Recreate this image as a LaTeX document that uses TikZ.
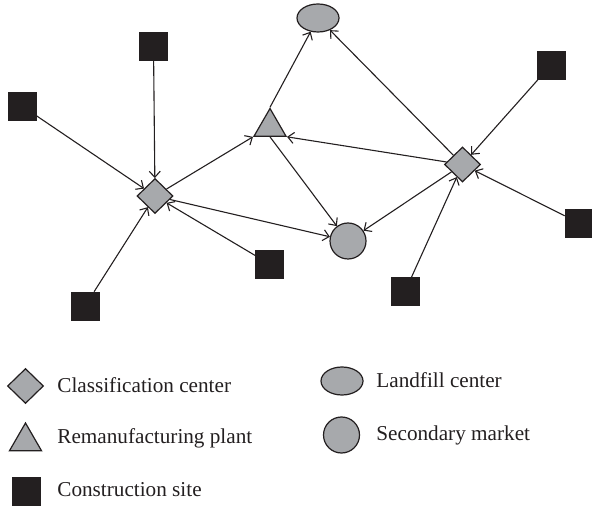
\documentclass[tikz,border=0pt]{standalone}
\usepackage{fontspec}
\setmainfont{Liberation Serif}
\usepackage{xcolor}
\usetikzlibrary{shapes.geometric,arrows.meta}
\definecolor{NetGray}{HTML}{A7A9AC}
\definecolor{NetDark}{HTML}{231F20}

\begin{document}
\begin{tikzpicture}[x=0.5pt,y=-0.5pt,
  sitebox/.style={draw=NetDark,fill=NetDark,minimum size=14pt,inner sep=0pt,line width=0.3pt},
  classbox/.style={diamond,draw=NetDark,fill=NetGray,minimum width=18pt,minimum height=17.5pt,inner sep=0pt,line width=0.6pt},
  plantbox/.style={regular polygon,regular polygon sides=3,draw=NetDark,fill=NetGray,minimum size=18.5pt,inner sep=0pt,line width=0.6pt},
  landbox/.style={ellipse,draw=NetDark,fill=NetGray,minimum width=21pt,minimum height=14pt,inner sep=0pt,line width=0.6pt},
  marketbox/.style={circle,draw=NetDark,fill=NetGray,minimum size=18pt,inner sep=0pt,line width=0.6pt},
  flow/.style={draw=NetDark,line width=0.55pt,-{Straight Barb[length=3pt,width=5.5pt]}},
  legtext/.style={anchor=base west,inner sep=0pt,text=NetDark,font=\fontsize{10.6}{12.5}\selectfont}]
\path[use as bounding box] (0,0) rectangle (592,506);
% network
\node[landbox] (lf) at (318,18) {};
\node[plantbox] (rp) at (270,127) {};
\node[classbox] (cl) at (155,196) {};
\node[classbox] (cr) at (462.5,164.5) {};
\node[marketbox] (sm) at (348,241) {};
\node[sitebox] (s1) at (153.5,46.5) {};
\node[sitebox] (s2) at (22,106) {};
\node[sitebox] (s3) at (85,306) {};
\node[sitebox] (s4) at (269.5,264) {};
\node[sitebox] (s5) at (551,65) {};
\node[sitebox] (s6) at (579,223) {};
\node[sitebox] (s7) at (405,291.5) {};
\draw[flow] (s1) -- (cl);
\draw[flow] (s2) -- (cl);
\draw[flow] (s3) -- (cl);
\draw[flow] (s4) -- (cl);
\draw[flow] (s5) -- (cr);
\draw[flow] (s6) -- (cr);
\draw[flow] (s7) -- (cr);
\draw[flow] (cl) -- (rp.corner 2);
\draw[flow] (cl) -- (sm);
\draw[flow] (rp.corner 1) -- (lf);
\draw[flow] (rp.side 2) -- (sm);
\draw[flow] (cr) -- (lf);
\draw[flow] (cr) -- (rp.corner 3);
\draw[flow] (cr) -- (sm);
% legend
\node[classbox] (kc) at (25.5,386) {};
\node[legtext] (kct) at (57,392) {Classification center};
\node[plantbox] (kp) at (25.5,441.5) {};
\node[legtext] (kpt) at (57,443) {Remanufacturing plant};
\node[sitebox] (ks) at (26,491) {};
\node[legtext] (kst) at (57,496) {Construction site};
\node[landbox] (kl) at (342,381) {};
\node[legtext] (klt) at (376,387) {Landfill center};
\node[marketbox] (km) at (341.5,435) {};
\node[legtext] (kmt) at (376,440) {Secondary market};
\end{tikzpicture}
\end{document}
